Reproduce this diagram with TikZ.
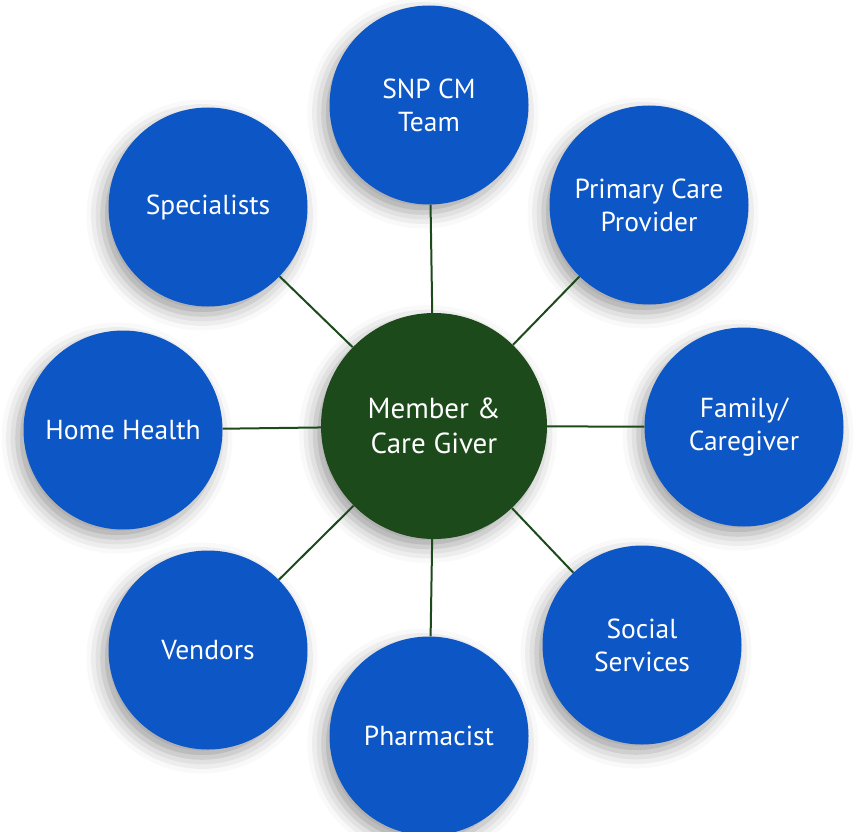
\documentclass[tikz,border=0pt]{standalone}
\usepackage{fontspec}
\setmainfont{PT Sans}
\usepackage{xcolor}
\definecolor{hub-green}{RGB}{29,74,27}
\definecolor{spoke-blue}{RGB}{13,86,197}
\usepackage{tikz}
\usetikzlibrary{shadows.blur}

\begin{document}
\begin{tikzpicture}[
    x=1pt, y=-1pt,
    every node/.style={inner sep=0pt},
    soft shadow/.style={blur shadow={shadow xshift=-6pt, shadow yshift=-8pt,
        shadow blur radius=16pt, shadow opacity=38}},
    spoke/.style={circle, fill=spoke-blue, minimum size=199pt, soft shadow,
        text=white, font=\fontsize{27.5}{33}\selectfont, align=center},
    hub/.style={circle, fill=hub-green, minimum size=226pt, soft shadow,
        text=white, font=\fontsize{29}{35}\selectfont, align=center},
    link/.style={draw=hub-green, line width=2pt}
]

\useasboundingbox (0,0) rectangle (859,832);

% Hub
\node[hub] (member) at (434,426) {Member \&\\Care Giver};

% Spokes, clockwise from the top
\node[spoke] (snp)     at (429,105) {SNP CM\\Team};
\node[spoke] (pcp)     at (649,205) {Primary Care\\Provider};
\node[spoke] (family)  at (744,427) {Family/\\Caregiver};
\node[spoke] (social)  at (642,645) {Social\\Services};
\node[spoke] (pharm)   at (429,736) {Pharmacist};
\node[spoke] (vendors) at (208,650) {Vendors};
\node[spoke] (home)    at (123,430) {Home Health};
\node[spoke] (spec)    at (208,207) {Specialists};

% Links hub to spokes
\foreach \s in {snp,pcp,family,social,pharm,vendors,home,spec}
    \draw[link] (member) -- (\s);

\end{tikzpicture}
\end{document}
